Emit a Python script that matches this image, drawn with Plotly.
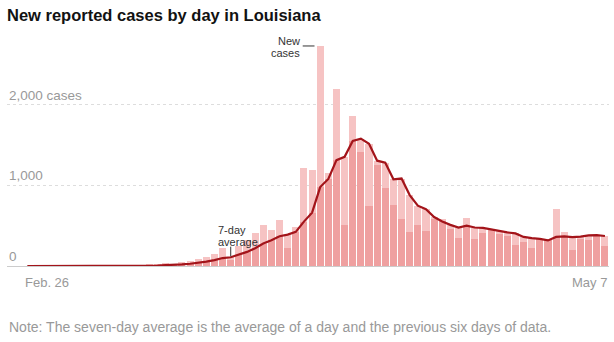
import plotly.graph_objects as go

# ---- data ----
dates = ["Feb. 26", "Feb. 27", "Feb. 28", "Feb. 29", "Mar. 1", "Mar. 2", "Mar. 3", "Mar. 4",
         "Mar. 5", "Mar. 6", "Mar. 7", "Mar. 8", "Mar. 9", "Mar. 10", "Mar. 11", "Mar. 12",
         "Mar. 13", "Mar. 14", "Mar. 15", "Mar. 16", "Mar. 17", "Mar. 18", "Mar. 19", "Mar. 20",
         "Mar. 21", "Mar. 22", "Mar. 23", "Mar. 24", "Mar. 25", "Mar. 26", "Mar. 27", "Mar. 28",
         "Mar. 29", "Mar. 30", "Mar. 31", "Apr. 1", "Apr. 2", "Apr. 3", "Apr. 4", "Apr. 5",
         "Apr. 6", "Apr. 7", "Apr. 8", "Apr. 9", "Apr. 10", "Apr. 11", "Apr. 12", "Apr. 13",
         "Apr. 14", "Apr. 15", "Apr. 16", "Apr. 17", "Apr. 18", "Apr. 19", "Apr. 20", "Apr. 21",
         "Apr. 22", "Apr. 23", "Apr. 24", "Apr. 25", "Apr. 26", "Apr. 27", "Apr. 28", "Apr. 29",
         "Apr. 30", "May 1", "May 2", "May 3", "May 4", "May 5", "May 6", "May 7"]

new_cases = [0, 0, 0, 0, 0, 0, 0, 0, 0, 0, 0, 0,
             1, 0, 5, 13, 17, 41, 14, 45, 60, 84,
             112, 150, 226, 80, 245, 325, 407, 510, 441, 569,
             225, 485, 1212, 1187, 2726, 1147, 2199, 514, 1857, 1417,
             746, 1253, 970, 761, 581, 421, 502, 433, 581, 586,
             462, 348, 595, 331, 404, 460, 401, 372, 261, 295,
             218, 340, 330, 704, 424, 198, 333, 321, 370, 251]

avg_7day = [0, 0, 0, 0, 0, 0, 0, 0, 0, 0, 0, 0,
            0.1, 0.1, 0.9, 2.7, 5.1, 11.0, 13.0, 19.3, 27.9, 39.1,
            53.3, 72.3, 98.7, 108.1, 136.7, 174.6, 220.7, 277.6, 319.1, 368.1,
            388.9, 423.1, 549.9, 661.3, 977.9, 1078.7, 1311.6, 1352.9, 1548.9, 1578.1,
            1515.1, 1304.7, 1279.4, 1074.0, 1083.6, 878.4, 747.7, 703.0, 607.0, 552.1,
            509.4, 476.1, 501.0, 476.6, 472.4, 455.1, 428.7, 415.9, 403.4, 360.6,
            344.4, 335.3, 316.7, 360.0, 367.4, 358.4, 363.9, 378.6, 382.9, 371.6]

y_grid = [1000, 2000]
y_labels = ["1,000", "2,000 cases"]

# ---- styles ----
LIGHT = "#f6c3c3"
DARK = "#efa0a0"
LINE = "#a3141a"
GRAY = "#999999"
FONT = "Liberation Sans, Arial, sans-serif"

x = list(range(len(dates)))
upper = [max(c, a) for c, a in zip(new_cases, avg_7day)]
lower = [min(c, a) for c, a in zip(new_cases, avg_7day)]

fig = go.Figure()
fig.add_trace(go.Bar(x=x, y=upper, width=0.87, marker=dict(color=LIGHT, line=dict(width=0)),
                     hoverinfo="skip", showlegend=False))
fig.add_trace(go.Bar(x=x, y=lower, width=0.87, marker=dict(color=DARK, line=dict(width=0)),
                     hoverinfo="skip", showlegend=False))
fig.add_trace(go.Scatter(x=x, y=avg_7day, mode="lines",
                         line=dict(color=LINE, width=2.2), hoverinfo="skip", showlegend=False))

annotations = []
for v, t in zip(y_grid + [0], y_labels + ["0"]):
    annotations.append(dict(xref="paper", x=0, yref="y", y=v, text=t, showarrow=False,
                            xanchor="left", yanchor="bottom", yshift=0,
                            font=dict(family=FONT, size=13.5, color=GRAY)))
annotations.append(dict(xref="x", x=-0.5, yref="paper", y=0, text=dates[0], showarrow=False,
                        xanchor="left", yanchor="top", yshift=-7,
                        font=dict(family=FONT, size=13, color=GRAY)))
annotations.append(dict(xref="x", x=len(dates) - 0.5, yref="paper", y=0, text=dates[-1],
                        showarrow=False, xanchor="right", yanchor="top", yshift=-7,
                        font=dict(family=FONT, size=13, color=GRAY)))
annotations.append(dict(xref="paper", x=0, yref="paper", y=-0.27,
                        text="Note: The seven-day average is the average of a day and the previous six days of data.",
                        showarrow=False, xanchor="left", yanchor="middle",
                        font=dict(family=FONT, size=14, color=GRAY)))
# in-chart labels
annotations.append(dict(xref="x", x=33.76, yref="y", y=2782, text="New", showarrow=False,
                        xanchor="right", yanchor="middle",
                        font=dict(family=FONT, size=11, color="#333333")))
annotations.append(dict(xref="x", x=33.76, yref="y", y=2640, text="cases", showarrow=False,
                        xanchor="right", yanchor="middle",
                        font=dict(family=FONT, size=11, color="#333333")))
annotations.append(dict(xref="x", x=23.19, yref="y", y=440, text="7-day", showarrow=False,
                        xanchor="left", yanchor="middle",
                        font=dict(family=FONT, size=11, color="#333333")))
annotations.append(dict(xref="x", x=23.19, yref="y", y=297, text="average", showarrow=False,
                        xanchor="left", yanchor="middle",
                        font=dict(family=FONT, size=11, color="#333333")))

shapes = [
    dict(type="line", xref="x", x0=33.85, x1=35.3, yref="y", y0=2726, y1=2726,
         line=dict(color="#333333", width=1)),
    dict(type="line", xref="x", x0=25, x1=25, yref="y", y0=120, y1=240,
         line=dict(color="#333333", width=1)),
]

fig.update_layout(
    width=614, height=342,
    margin=dict(l=7, r=5, t=40, b=76),
    paper_bgcolor="white", plot_bgcolor="white",
    barmode="overlay", bargap=0,
    title=dict(text="<b>New reported cases by day in Louisiana</b>",
               x=7 / 614, xref="container", xanchor="left",
               y=1 - 15 / 342, yref="container", yanchor="middle",
               font=dict(family=FONT, size=16.5, color="#121212")),
    xaxis=dict(range=[-2.5, len(dates) - 0.5], showgrid=False, zeroline=False,
               showticklabels=False, ticks="", showline=False, fixedrange=True),
    yaxis=dict(range=[0, 2800], tickvals=y_grid, showticklabels=False, ticks="",
               showgrid=True, gridcolor="#dddddd", gridwidth=1, griddash="3px,3px",
               zeroline=True, zerolinecolor="#cccccc", zerolinewidth=1,
               showline=False, fixedrange=True),
    annotations=annotations,
    shapes=shapes,
)

fig.write_html("out.html")
